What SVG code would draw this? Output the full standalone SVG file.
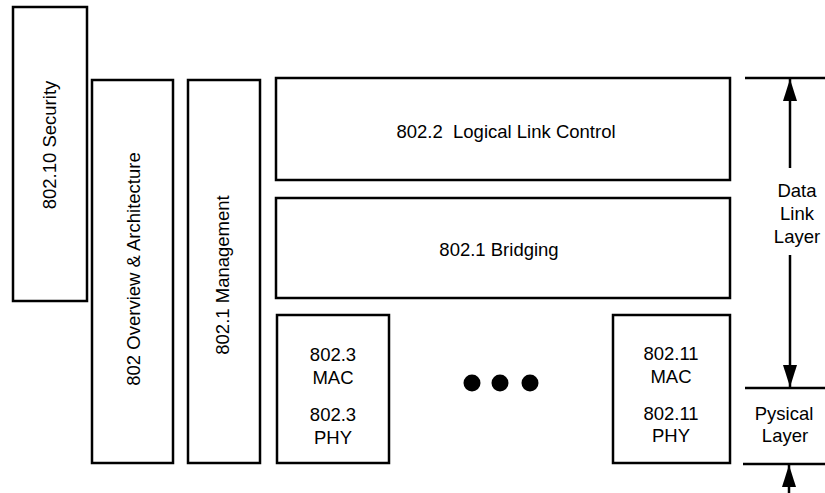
<svg xmlns="http://www.w3.org/2000/svg" width="825" height="493" viewBox="0 0 825 493">
<defs>
<style>
.box{fill:#fff;stroke:#000;stroke-width:2.5}
.t{font-family:"Liberation Sans",Arial,sans-serif;font-size:18.5px;fill:#000;text-anchor:middle}
.ln{stroke:#000;stroke-width:2.5;fill:none}
</style>
<marker id="ah" viewBox="0 0 22 14" refX="22" refY="7" markerWidth="22" markerHeight="14" markerUnits="userSpaceOnUse" orient="auto">
<path d="M0,0 L22,7 L0,14 Z" fill="#000"/>
</marker>
</defs>
<rect width="825" height="493" fill="#fff"/>
<g id="security">
<rect class="box" x="13" y="7" width="74" height="294"/>
<text class="t" transform="translate(56,145) rotate(-90)">802.10 Security</text>
</g>
<g id="overview">
<rect class="box" x="92" y="80" width="81" height="383"/>
<text class="t" transform="translate(140,269) rotate(-90)">802 Overview &amp; Architecture</text>
</g>
<g id="management">
<rect class="box" x="188" y="80" width="72" height="383"/>
<text class="t" transform="translate(229,275) rotate(-90)">802.1 Management</text>
</g>
<g id="llc">
<rect class="box" x="276" y="78" width="454" height="102"/>
<text class="t" x="506" y="138" xml:space="preserve">802.2  Logical Link Control</text>
</g>
<g id="bridging">
<rect class="box" x="276" y="198" width="454" height="100"/>
<text class="t" x="499" y="256">802.1 Bridging</text>
</g>
<g id="ieee8023">
<rect class="box" x="277" y="315" width="112" height="148"/>
<text class="t" x="333" y="361">802.3</text>
<text class="t" x="333" y="384">MAC</text>
<text class="t" x="333" y="421">802.3</text>
<text class="t" x="333" y="444">PHY</text>
</g>
<g id="ellipsis">
<circle cx="472" cy="383" r="8.5" fill="#000"/>
<circle cx="500" cy="383" r="8.5" fill="#000"/>
<circle cx="530" cy="383" r="8.5" fill="#000"/>
</g>
<g id="ieee80211">
<rect class="box" x="613" y="315" width="117" height="148"/>
<text class="t" x="671" y="360">802.11</text>
<text class="t" x="671" y="383">MAC</text>
<text class="t" x="671" y="420">802.11</text>
<text class="t" x="671" y="442">PHY</text>
</g>
<g id="datalink-label">
<text class="t" x="797" y="197">Data</text>
<text class="t" x="797" y="220">Link</text>
<text class="t" x="797" y="243">Layer</text>
</g>
<g id="physical-label">
<text class="t" x="784" y="420">Pysical</text>
<text class="t" x="785" y="442">Layer</text>
</g>
<g id="connectors">
<line class="ln" x1="745" y1="78" x2="825" y2="78"/>
<line class="ln" x1="745" y1="388" x2="825" y2="388"/>
<line class="ln" x1="743" y1="464" x2="825" y2="464"/>
<line class="ln" x1="790" y1="168" x2="790" y2="79" marker-end="url(#ah)"/>
<line class="ln" x1="790" y1="255" x2="790" y2="387" marker-end="url(#ah)"/>
<line class="ln" x1="789" y1="493" x2="789" y2="465" marker-end="url(#ah)"/>
</g>
</svg>
